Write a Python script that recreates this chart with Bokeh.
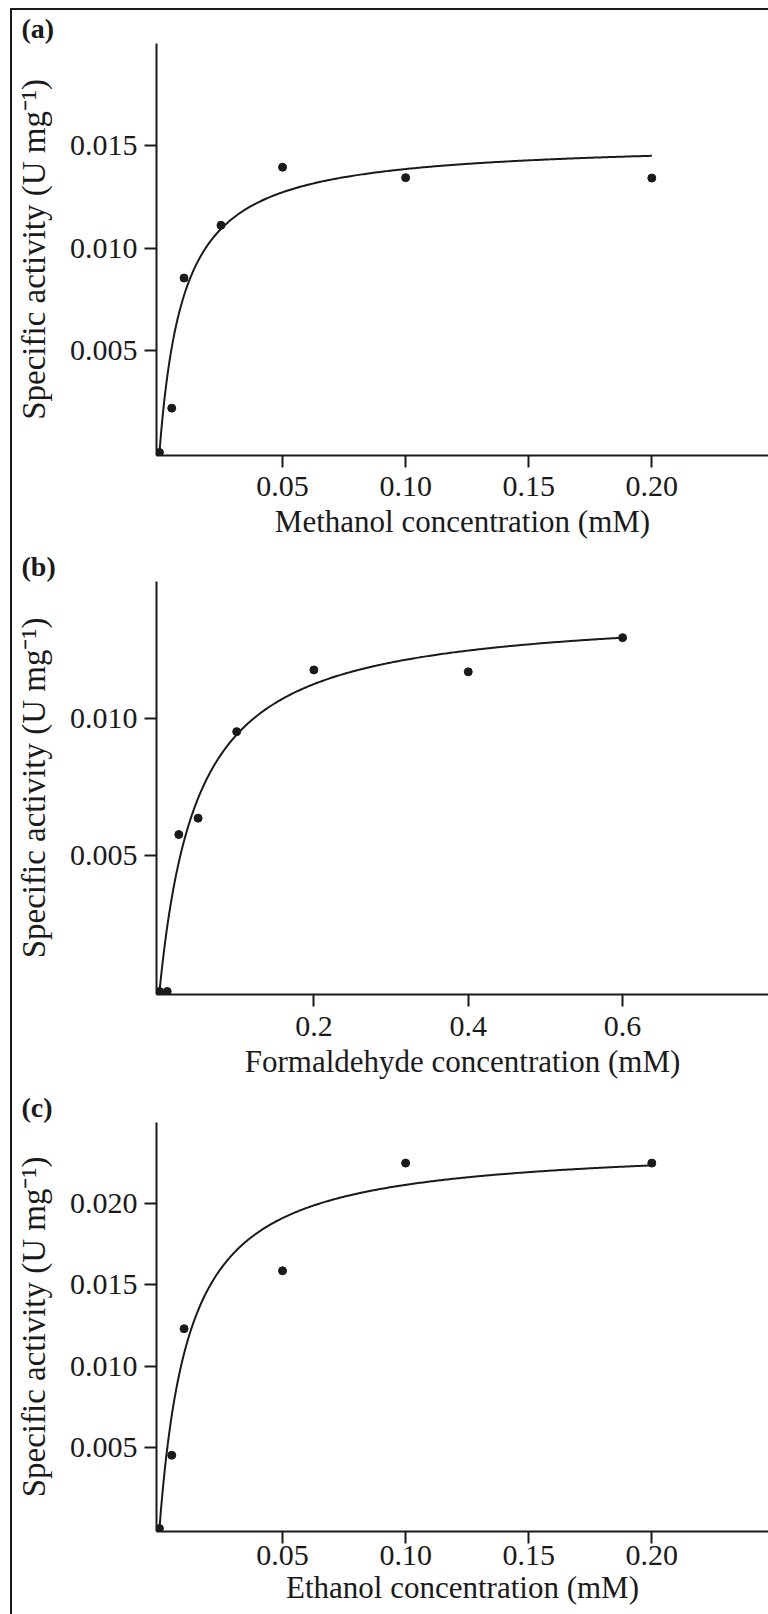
import numpy as np
from bokeh.plotting import figure
from bokeh.models import FixedTicker, PrintfTickFormatter, Column
from bokeh.embed import file_html
from bokeh.resources import INLINE

# ---------------- data ----------------
# (a) methanol
meoh_conc = [0, 0.005, 0.01, 0.025, 0.05, 0.10, 0.20]
meoh_act = [0, 0.00217, 0.00853, 0.01111, 0.01395, 0.01344, 0.01342]
meoh_vmax, meoh_km = 0.01522, 0.0098
meoh_xticks = [0.05, 0.10, 0.15, 0.20]
meoh_yticks = [0.005, 0.010, 0.015]

# (b) formaldehyde
form_conc = [0, 0.01, 0.025, 0.05, 0.10, 0.20, 0.40, 0.60]
form_act = [0, 0, 0.00575, 0.00635, 0.00952, 0.01178, 0.01171, 0.01296]
form_vmax, form_km = 0.01402, 0.049
form_xticks = [0.2, 0.4, 0.6]
form_yticks = [0.005, 0.010]

# (c) ethanol
etoh_conc = [0, 0.005, 0.01, 0.05, 0.10, 0.20]
etoh_act = [0, 0.00451, 0.0123, 0.01587, 0.0225, 0.0225]
etoh_vmax, etoh_km = 0.0237, 0.012
etoh_xticks = [0.05, 0.10, 0.15, 0.20]
etoh_yticks = [0.005, 0.010, 0.015, 0.020]

y_title = "Specific activity (U mg\u207b\u00b9)"

INK = "#1a1a1a"
FONT = "Liberation Serif"


def panel(tag, conc, act, vmax, km, xticks, yticks, xfmt, xlabel,
          xr, yr, height, borders, s1, s2):
    top, bottom, left = borders
    p = figure(width=756, height=height, x_range=xr, y_range=yr,
               output_backend="svg", toolbar_location=None,
               min_border_top=top, min_border_bottom=bottom,
               min_border_left=left, min_border_right=0)
    p.outline_line_color = None
    p.grid.visible = False
    p.background_fill_color = "white"
    p.border_fill_color = "white"

    # panel tag as a left-aligned title pulled into the left margin
    p.title.text = tag
    p.title.align = "left"
    p.title.offset = -135
    p.title.standoff = 0
    p.title.text_font = FONT
    p.title.text_font_style = "bold"
    p.title.text_font_size = "28px"
    p.title.text_color = INK

    xf = np.linspace(0, max(conc), 300)
    yf = vmax * xf / (km + xf)
    p.line(xf, yf, line_color=INK, line_width=2)
    p.scatter(conc, act, size=8, color=INK)

    for ax in (p.xaxis[0], p.yaxis[0]):
        ax.axis_line_color = INK
        ax.axis_line_width = 2
        ax.major_tick_line_color = INK
        ax.major_tick_line_width = 2
        ax.major_tick_in = 0
        ax.major_tick_out = 12
        ax.minor_tick_in = 0
        ax.minor_tick_out = 0
        ax.major_label_text_font = FONT
        ax.major_label_text_font_size = "30px"
        ax.major_label_text_color = INK
        ax.axis_label_text_font = FONT
        ax.axis_label_text_font_style = "normal"
        ax.axis_label_text_color = INK

    p.xaxis.ticker = FixedTicker(ticks=xticks)
    p.xaxis.formatter = PrintfTickFormatter(format=xfmt)
    p.xaxis.axis_label = xlabel
    p.xaxis.axis_label_text_font_size = "31px"
    p.xaxis.major_label_standoff = s1
    p.xaxis.axis_label_standoff = s2

    p.yaxis.ticker = FixedTicker(ticks=yticks)
    p.yaxis.formatter = PrintfTickFormatter(format="%.3f")
    p.yaxis.axis_label = y_title
    p.yaxis.axis_label_text_font_size = "33px"
    p.yaxis.major_label_standoff = 7
    p.yaxis.axis_label_standoff = 15
    return p


pa = panel("(a)", meoh_conc, meoh_act, meoh_vmax, meoh_km,
           meoh_xticks, meoh_yticks, "%.2f", "Methanol concentration (mM)",
           (-0.0012, 0.2474), (-0.000146, 0.0200),
           538, (31, 93, 143), 9, 5)
pb = panel("(b)", form_conc, form_act, form_vmax, form_km,
           form_xticks, form_yticks, "%.1f", "Formaldehyde concentration (mM)",
           (-0.0039, 0.789), (-0.00011, 0.01502),
           540, (33, 94, 144), 10, 5)
pc = panel("(c)", etoh_conc, etoh_act, etoh_vmax, etoh_km,
           etoh_xticks, etoh_yticks, "%.2f", "Ethanol concentration (mM)",
           (-0.0012, 0.2474), (-0.000185, 0.0250),
           526, (34, 83, 143), 2, 2)

layout = Column(children=[pa, pb, pc], margin=(8, 0, 0, 10),
                styles={"border-left": "2px solid #1a1a1a",
                        "border-top": "2px solid #1a1a1a"})

open("out.html", "w").write(file_html(layout, INLINE))
